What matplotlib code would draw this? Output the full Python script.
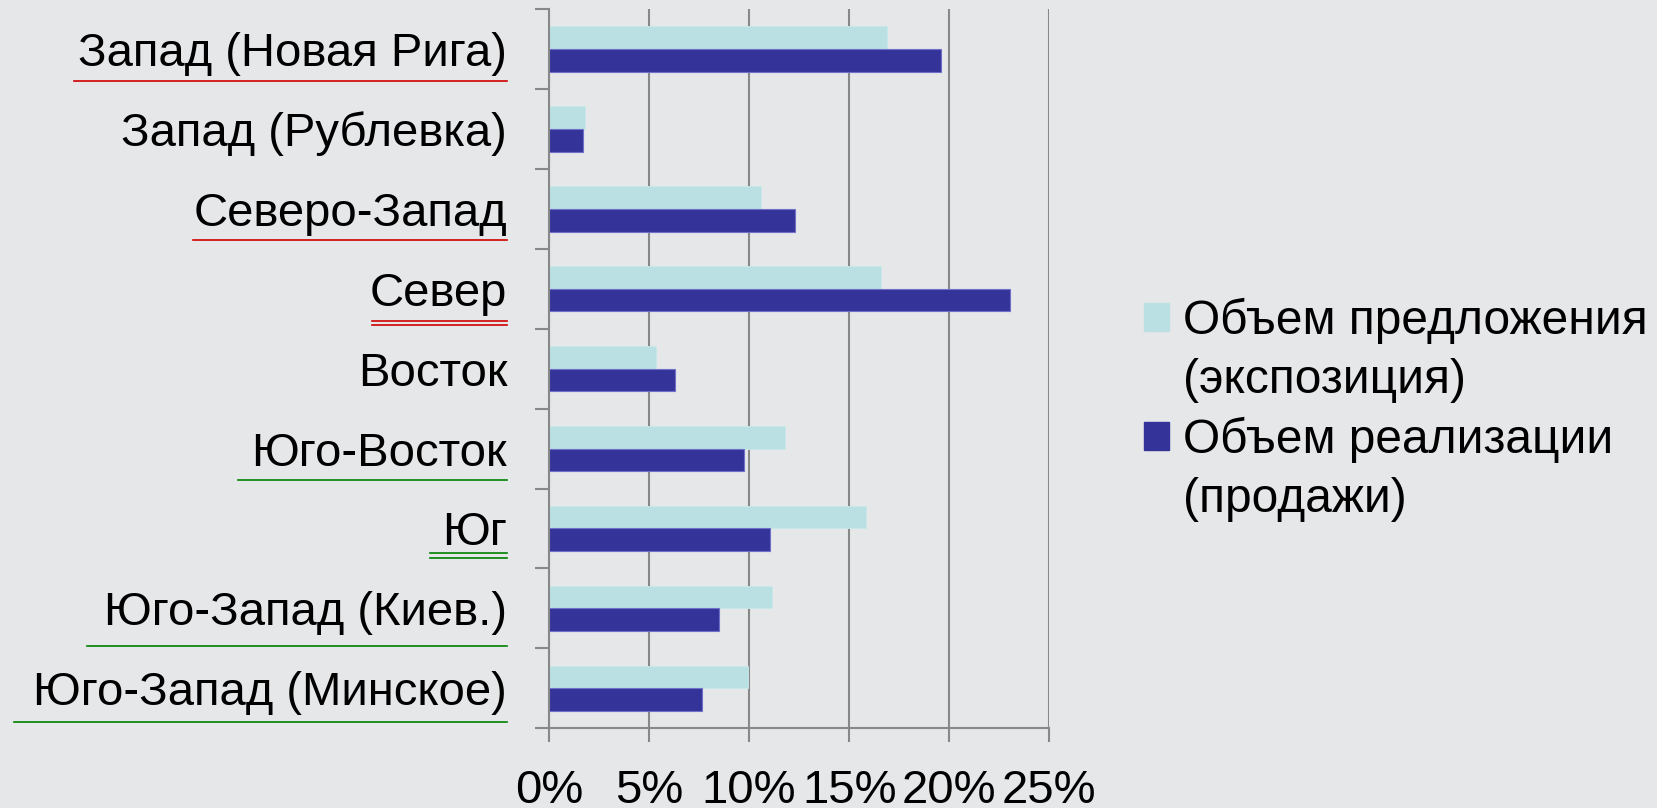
import matplotlib
matplotlib.use("Agg")
import matplotlib.pyplot as plt
import numpy as np
from matplotlib.patches import Patch
from matplotlib.lines import Line2D
from matplotlib.transforms import IdentityTransform

# ---- data ----
categories = ["Запад (Новая Рига)", "Запад (Рублевка)", "Северо-Запад", "Север",
              "Восток", "Юго-Восток", "Юг", "Юго-Запад (Киев.)", "Юго-Запад (Минское)"]
supply = [16.9, 1.8, 10.6, 16.6, 5.35, 11.8, 15.85, 11.15, 9.95]   # Объем предложения (экспозиция), %
sales = [19.6, 1.7, 12.3, 23.05, 6.3, 9.75, 11.05, 8.5, 7.65]     # Объем реализации (продажи), %
xticks = [0, 5, 10, 15, 20, 25]
xtick_labels = ["0%", "5%", "10%", "15%", "20%", "25%"]
legend_lines = [["Объем предложения", "(экспозиция)"], ["Объем реализации", "(продажи)"]]

# underline styling per category: (color, count, offset px below tick centre, left extension px)
underlines = [("#D00000", 1, 32, 4), None, ("#D00000", 1, 31, 1), ("#D00000", 2, 32, -2),
              None, ("#008000", 1, 31, 14), ("#008000", 2, 25, 12), ("#008000", 1, 38, 17),
              ("#008000", 1, 34, 19)]

plt.rcParams['font.family'] = ['Liberation Sans', 'DejaVu Sans']

BG = "#E6E7E9"
LIGHT = "#BBE0E3"
DARK = "#333399"
GRID = "#888888"
FS = 34
LFS = 34.5

W, H = 1658, 808
fig = plt.figure(figsize=(W / 100, H / 100), dpi=100, facecolor=BG)
ax = fig.add_axes([548.9 / W, 1 - 728.3 / H, (1049.3 - 548.9) / W, (728.3 - 9) / H])
ax.set_facecolor(BG)

y = np.arange(len(categories))
bh = 0.284
ax.barh(y - bh / 2, supply, height=bh, color=LIGHT, edgecolor="#C8E8EA", linewidth=0.6, zorder=3)
ax.barh(y + bh / 2, sales, height=bh, color=DARK, edgecolor="#7070C8", linewidth=0.8, zorder=3)

ax.set_xlim(0, 25)
ax.set_ylim(len(categories) - 0.5, -0.5)

ax.set_xticks(xticks)
ax.set_xticklabels(xtick_labels, fontsize=FS)
ax.set_yticks(y)
ax.set_yticklabels(categories, fontsize=FS)
ax.set_yticks(np.arange(len(categories) + 1) - 0.5, minor=True)

ax.tick_params(axis='y', which='major', length=0, pad=30)
ax.tick_params(axis='y', which='minor', length=10, width=1.5, color=GRID, direction='out')
ax.tick_params(axis='x', length=10, width=1.5, color=GRID, direction='out', pad=19)

ax.xaxis.grid(True, color=GRID, linewidth=1.5, zorder=1)
ax.set_axisbelow(True)
for s in ['top', 'right']:
    ax.spines[s].set_visible(False)
for s in ['left', 'bottom']:
    ax.spines[s].set_color(GRID)
    ax.spines[s].set_linewidth(1.5)
    ax.spines[s].set_zorder(4)

# legend: one row per text line
handles = [Patch(facecolor=LIGHT, edgecolor=LIGHT), Patch(facecolor='none', edgecolor='none'),
           Patch(facecolor=DARK, edgecolor=DARK), Patch(facecolor='none', edgecolor='none')]
labels = [legend_lines[0][0], legend_lines[0][1], legend_lines[1][0], legend_lines[1][1]]
fig.legend(handles, labels, loc='upper left', bbox_to_anchor=(1144 / W, 1 - 298 / H),
           frameon=False, fontsize=LFS, handlelength=0.52, handleheight=0.52,
           handletextpad=0.3, labelspacing=0.29, borderpad=0, borderaxespad=0)

# underlines under category labels, placed from the rendered label extents
fig.canvas.draw()
renderer = fig.canvas.get_renderer()
for lab, tk, spec in zip(ax.get_yticklabels(), y, underlines):
    if spec is None:
        continue
    color, count, off, ext = spec
    bb = lab.get_window_extent(renderer)
    yc = ax.transData.transform((0, tk))[1]
    for k in range(count):
        yy = yc - off - k * 4.5
        fig.add_artist(Line2D([bb.x0 - ext, bb.x1], [yy, yy], color=color, linewidth=1.2,
                              transform=IdentityTransform()))

fig.savefig("out.png", dpi=100, facecolor=BG)
